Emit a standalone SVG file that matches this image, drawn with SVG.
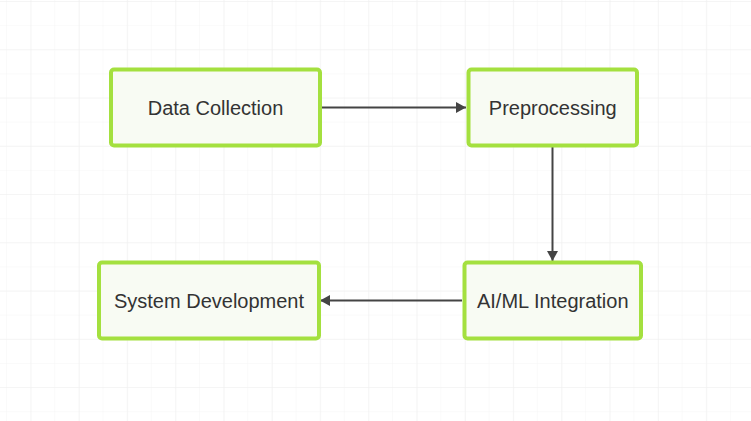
<svg xmlns="http://www.w3.org/2000/svg" width="751" height="421" viewBox="0 0 751 421">
<style>
.node rect{fill:#f8fbf3;stroke:#a4e03f;stroke-width:4}
.node text{font-family:"Liberation Sans",Arial,sans-serif;font-size:20px;fill:#333;text-anchor:middle}
.edge{stroke:#444;stroke-width:2;fill:none;marker-end:url(#arr)}
</style>
<defs>
<pattern id="minor" x="6" y="1" width="24.13" height="24.13" patternUnits="userSpaceOnUse">
<path d="M0 0H24.13M0 0V24.13" stroke="#f5f5f5" stroke-width="1" fill="none"/>
</pattern>
<pattern id="major" x="30.6" y="1" width="48.26" height="48.26" patternUnits="userSpaceOnUse">
<path d="M0 0H48.26M0 0V48.26" stroke="#efefef" stroke-width="1" fill="none"/>
</pattern>
<marker id="arr" markerWidth="10" markerHeight="11" refX="10" refY="5.5" orient="auto" markerUnits="userSpaceOnUse">
<path d="M0 0L10 5.5L0 11Z" fill="#444"/>
</marker>
</defs>
<rect width="751" height="421" fill="#fff"/>
<rect width="751" height="421" fill="url(#minor)"/>
<rect width="751" height="421" fill="url(#major)"/>
<g id="connectors">
<line class="edge" x1="322" y1="107.5" x2="466" y2="107.5"/>
<line class="edge" x1="552.5" y1="147" x2="552.5" y2="261"/>
<line class="edge" x1="462" y1="300.5" x2="320" y2="300.5"/>
</g>
<g id="node-data-collection" class="node">
<rect x="111" y="69.5" width="209" height="76" rx="3"/>
<text x="215.5" y="114.5">Data Collection</text>
</g>
<g id="node-preprocessing" class="node">
<rect x="468.5" y="69.5" width="168.5" height="76" rx="3"/>
<text x="552.75" y="114.5">Preprocessing</text>
</g>
<g id="node-aiml-integration" class="node">
<rect x="464.5" y="262.5" width="176.5" height="76" rx="3"/>
<text x="552.75" y="307.5">AI/ML Integration</text>
</g>
<g id="node-system-development" class="node">
<rect x="99" y="262.5" width="220" height="76" rx="3"/>
<text x="209" y="307.5">System Development</text>
</g>
</svg>
